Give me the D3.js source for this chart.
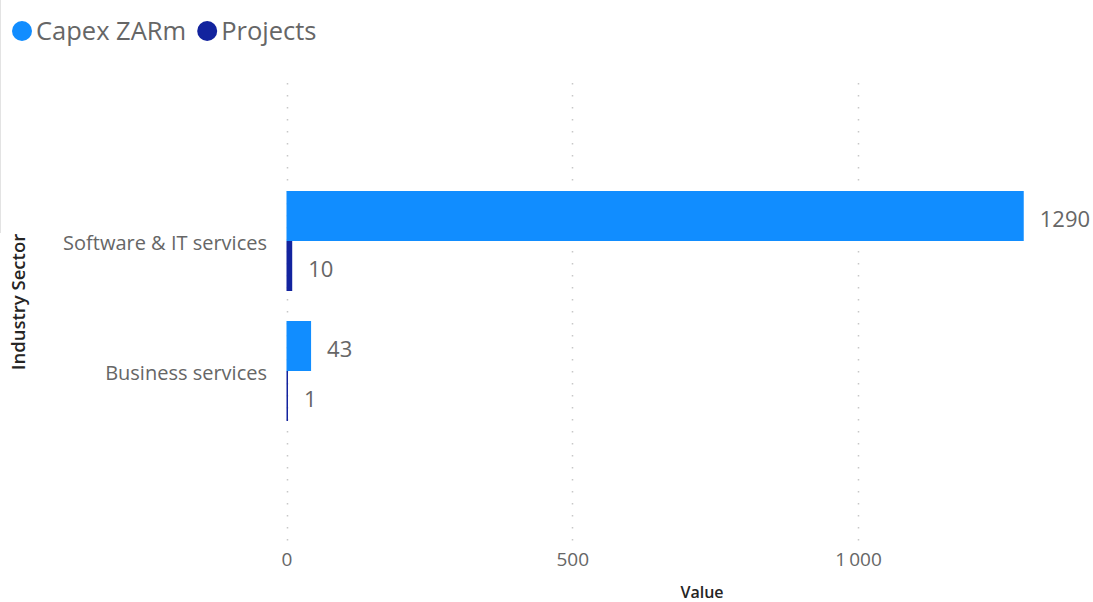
<!DOCTYPE html>
<html>
<head>
<meta charset="utf-8">
<script src="https://cdn.jsdelivr.net/npm/d3@7"></script>
<style>
  html, body { margin: 0; padding: 0; background: #fff; }
  svg { display: block; font-family: "Segoe UI", "Open Sans", "Noto Sans", sans-serif; }
</style>
</head>
<body>
<svg id="chart" width="1093" height="602"></svg>
<script>
// Industry sectors and their values per measure
const sectors = ["Software & IT services", "Business services"];
const seriesNames = ["Capex ZARm", "Projects"];
const capexZARm = [1290, 43];
const projects = [10, 1];
const xTicks = [0, 500, 1000];
const seriesColors = ["#118DFF", "#12239E"];

const svg = d3.select("#chart");

// thin frame edge on the left
svg.append("line")
  .attr("x1", 0.5).attr("x2", 0.5).attr("y1", 0).attr("y2", 233)
  .attr("stroke", "#e3e3e3").attr("stroke-width", 1);

const x = d3.scaleLinear().domain([0, 1000]).range([286.5, 858]);
const y = d3.scaleBand().domain(sectors).range([176, 436])
  .paddingInner(30 / 130).paddingOuter(15 / 130);
const ySub = d3.scaleBand().domain(seriesNames).range([0, y.bandwidth()]);

// dotted vertical gridlines
const grid = svg.append("g");
xTicks.forEach(t => {
  grid.append("line")
    .attr("x1", Math.round(x(t)) + 0.5).attr("x2", Math.round(x(t)) + 0.5)
    .attr("y1", 83).attr("y2", 542)
    .attr("stroke", "#c8c8c8").attr("stroke-width", 1.5)
    .attr("stroke-dasharray", "1.5,10.5");
});

// x axis tick labels
const xAxis = d3.axisBottom(x).tickValues(xTicks).tickSize(0)
  .tickFormat(d => d3.format(",")(d).replace(/,/g, "\u2009"));
const gx = svg.append("g").attr("transform", "translate(0,552)").call(xAxis);
gx.select(".domain").remove();
gx.selectAll("text").attr("fill", "#666").style("font-size", "19px")
  .style("font-family", "\"Segoe UI\", \"Open Sans\", sans-serif").attr("dy", "0.6em");

// y axis category labels
const yAxis = d3.axisLeft(y).tickSize(0).tickPadding(0);
const gy = svg.append("g").attr("transform", "translate(267,0)").call(yAxis);
gy.select(".domain").remove();
gy.selectAll("text").attr("fill", "#666").style("font-size", "20px")
  .style("font-family", "\"Segoe UI\", \"Open Sans\", sans-serif").attr("dy", "0.45em");

// axis titles
svg.append("text").attr("x", 702).attr("y", 598).attr("text-anchor", "middle")
  .attr("fill", "#252423").style("font-size", "16px").style("font-weight", "600")
  .text("Value");
svg.append("text").attr("transform", "translate(25,302) rotate(-90)")
  .attr("text-anchor", "middle").attr("fill", "#252423")
  .style("font-size", "18.5px").style("font-weight", "600")
  .text("Industry Sector");

// grouped bars
const rows = sectors.map((s, i) => ({ sector: s, values: [capexZARm[i], projects[i]] }));
const groups = svg.append("g").selectAll("g").data(rows).join("g")
  .attr("transform", d => `translate(0,${y(d.sector)})`);

groups.selectAll("rect")
  .data(d => d.values.map((v, j) => ({ name: seriesNames[j], value: v, j })))
  .join("rect")
  .attr("x", x(0))
  .attr("y", d => ySub(d.name))
  .attr("width", d => Math.max(1.5, x(d.value) - x(0)))
  .attr("height", ySub.bandwidth())
  .attr("fill", d => seriesColors[d.j]);

// value labels at bar ends
groups.selectAll("text.val")
  .data(d => d.values.map((v, j) => ({ name: seriesNames[j], value: v })))
  .join("text").attr("class", "val")
  .attr("x", d => Math.max(x(d.value), x(0) + 1.5) + 16)
  .attr("y", d => ySub(d.name) + ySub.bandwidth() / 2)
  .attr("dy", "0.48em")
  .attr("fill", "#666").style("font-size", "22px")
  .text(d => d.value);

// legend
const legend = svg.append("g").attr("transform", "translate(12,31)");
let lx = 0;
seriesNames.forEach((n, i) => {
  const item = legend.append("g").attr("transform", `translate(${lx},0)`);
  item.append("circle").attr("cx", 10).attr("cy", 0).attr("r", 10).attr("fill", seriesColors[i]);
  const t = item.append("text").attr("x", 24).attr("y", 0).attr("dy", "0.36em")
    .attr("fill", "#666").style("font-size", "25.5px").text(n);
  lx += 24 + t.node().getComputedTextLength() + 11;
});
</script>
</body>
</html>
